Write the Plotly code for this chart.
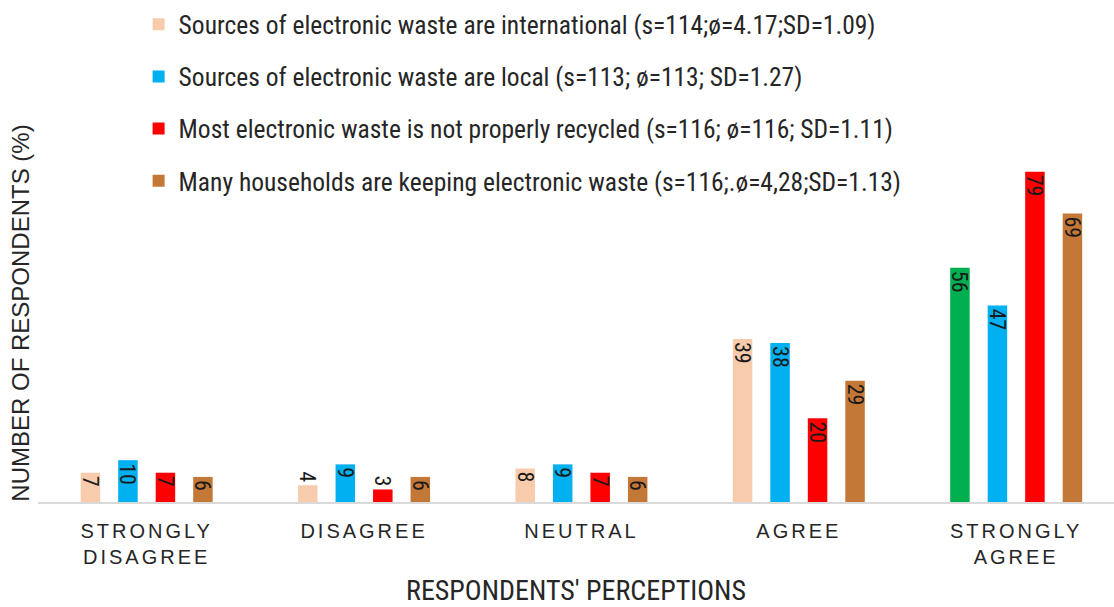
import plotly.graph_objects as go

# Survey responses (% of respondents) per perception level
categories = ["STRONGLY<br>DISAGREE", "DISAGREE", "NEUTRAL", "AGREE", "STRONGLY<br>AGREE"]

series_names = [
    "Sources of electronic waste are international (s=114;\u00f8=4.17;SD=1.09)",
    "Sources of electronic waste are local (s=113; \u00f8=113; SD=1.27)",
    "Most electronic waste is not properly recycled (s=116; \u00f8=116; SD=1.11)",
    "Many households are keeping electronic waste (s=116;.\u00f8=4,28;SD=1.13)",
]
international = [7, 4, 8, 39, 56]
local = [10, 9, 9, 38, 47]
not_recycled = [7, 3, 7, 20, 79]
keeping = [6, 6, 6, 29, 69]

series_values = [international, local, not_recycled, keeping]

# Bar fills (the last "international" bar is drawn green)
series_colors = [
    ["#F8CBAD", "#F8CBAD", "#F8CBAD", "#F8CBAD", "#00B050"],
    "#00B0F0",
    "#FF0000",
    "#C47838",
]

NARROW = "Liberation Sans Narrow, Arial Narrow, Roboto Condensed, sans-serif"
SANS = "Liberation Sans, Arial, sans-serif"

fig = go.Figure()
for i, (name, vals, col) in enumerate(zip(series_names, series_values, series_colors)):
    fig.add_trace(go.Bar(
        x=categories,
        y=vals,
        name=name,
        legendgroup=f"g{i}",
        marker=dict(color=col, line=dict(width=0)),
        text=[str(v) for v in vals],
        textposition=["outside" if v < 5 else "inside" for v in vals],
        insidetextanchor="end",
        textangle=90,
        constraintext="none",
        cliponaxis=False,
        textfont=dict(family=NARROW, size=22, color="#1a1a1a"),
        hoverinfo="skip",
    ))

fig.update_layout(
    width=1114,
    height=607,
    margin=dict(l=38, r=0, t=124, b=105),
    paper_bgcolor="white",
    plot_bgcolor="white",
    barmode="group",
    bargap=0.31,
    bargroupgap=0.48,
    showlegend=True,
    legend=dict(
        x=0.0935, y=1.325, xref="paper", yref="paper",
        xanchor="left", yanchor="top",
        font=dict(family=NARROW, size=25.5, color="#262626"),
        tracegroupgap=16,
        bgcolor="rgba(0,0,0,0)",
    ),
    xaxis=dict(
        type="category",
        range=[-0.5, 4.45],
        automargin=False,
        showline=True,
        linecolor="#D9D9D9",
        linewidth=2,
        ticks="",
        showgrid=False,
        ticklabelstandoff=10,
        tickfont=dict(family=SANS, size=20, color="#262626"),
        title=dict(text="RESPONDENTS' PERCEPTIONS", standoff=25,
                   font=dict(family=NARROW, size=28, color="#262626")),
    ),
    yaxis=dict(
        range=[0, 90.4],
        automargin=False,
        showgrid=False,
        zeroline=False,
        showticklabels=False,
        showline=False,
        ticks="",
        title=dict(text="NUMBER OF RESPONDENTS (%)", standoff=0,
                   font=dict(family=SANS, size=24, color="#262626")),
    ),
)

letter_spacing_css = """
var st = document.createElement('style');
st.textContent = '.xtick text { letter-spacing: 3px; }';
document.head.appendChild(st);
"""

fig.write_html("out.html", post_script=letter_spacing_css)
